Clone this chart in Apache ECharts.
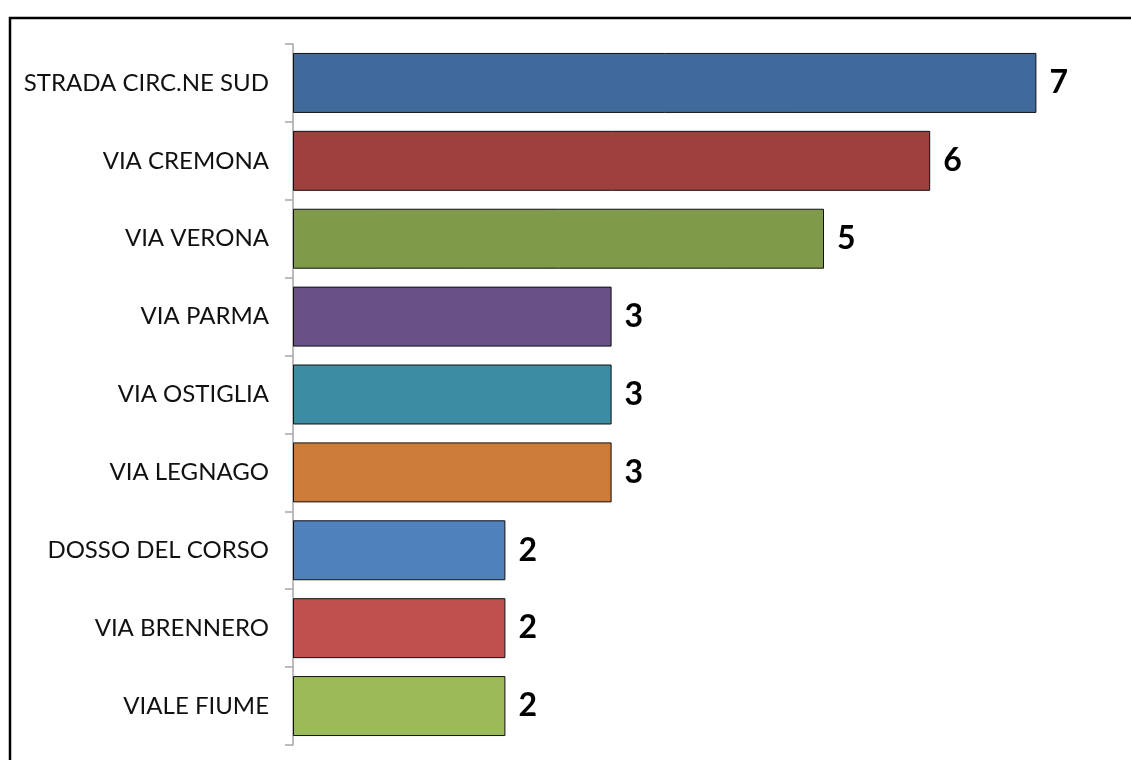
<!DOCTYPE html>
<html><head><meta charset="utf-8">
<script src="https://cdn.jsdelivr.net/npm/echarts@6/dist/echarts.min.js"></script>
<style>html,body{margin:0;padding:0;background:#fff}#c{width:1131px;height:760px}</style>
</head><body><div id="c"></div>
<script>
const categories = ["STRADA CIRC.NE SUD","VIA CREMONA","VIA VERONA","VIA PARMA","VIA OSTIGLIA","VIA LEGNAGO","DOSSO DEL CORSO","VIA BRENNERO","VIALE FIUME"];
const values = [7,6,5,3,3,3,2,2,2];
const colors = ["#406A9C","#9E413E","#7F9A48","#695185","#3C8DA3","#CC7B38","#4F81BD","#C0504D","#9BBB59"];

const chart = echarts.init(document.getElementById('c'));
chart.setOption({
  animation:false,
  graphic:[{type:'rect',shape:{x:10,y:18,width:1140,height:780},style:{fill:'none',stroke:'#000',lineWidth:2.5},z:-1}],
  grid:{left:293,top:44,width:796.5,bottom:15},
  xAxis:{type:'value',min:0,max:7.5,show:false},
  yAxis:{type:'category',data:categories,inverse:true,
    axisLine:{show:true,lineStyle:{color:'#a6a6a6',width:1.5}},
    axisTick:{show:true,alignWithLabel:false,length:8,lineStyle:{color:'#a6a6a6',width:1.5}},
    axisLabel:{margin:24,fontFamily:'Lato',fontSize:24,color:'#111'}},
  series:[{type:'bar',barCategoryGap:'23%',
    data:values.map((v,i)=>({value:v,itemStyle:{color:colors[i]}})),
    itemStyle:{borderColor:'#111',borderWidth:1},
    label:{show:true,position:'right',distance:13,fontFamily:'Lato',fontWeight:'bold',fontSize:32,color:'#000'}}]
});
</script></body></html>
